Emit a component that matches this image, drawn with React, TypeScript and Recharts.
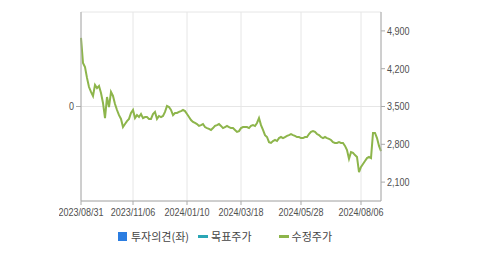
import { LineChart, Line, XAxis, YAxis, CartesianGrid } from "recharts";

// 수정주가, sampled evenly across the period
const prices = [
  4770, 4305, 4230, 4030, 3860, 3770, 3695, 3900, 3840, 3880,
  3750, 3565, 3285, 3675, 3490, 3770, 3695, 3545, 3435, 3340,
  3270, 3120, 3175, 3230, 3270, 3380, 3435, 3285, 3340, 3305,
  3360, 3285, 3305, 3305, 3270, 3270, 3360, 3400, 3270, 3325,
  3305, 3325, 3400, 3510, 3490, 3435, 3340, 3380, 3380, 3400,
  3415, 3435, 3415, 3360, 3305, 3250, 3215, 3195, 3175, 3140,
  3155, 3175, 3120, 3100, 3085, 3065, 3100, 3140, 3155, 3175,
  3140, 3100, 3120, 3140, 3120, 3100, 3100, 3065, 3030, 3045,
  3100, 3120, 3120, 3120, 3100, 3140, 3155, 3140, 3195, 3285,
  3155, 3065, 2970, 2935, 2840, 2825, 2860, 2880, 2860, 2915,
  2935, 2915, 2935, 2955, 2970, 2990, 2970, 2955, 2935, 2935,
  2915, 2915, 2935, 2935, 2990, 3030, 3045, 3030, 2990, 2970,
  2935, 2915, 2935, 2915, 2900, 2880, 2840, 2825, 2825, 2840,
  2825, 2825, 2770, 2695, 2530, 2655, 2640, 2600, 2565, 2285,
  2380, 2435, 2490, 2545, 2565, 2545, 3010, 3010, 2915, 2770,
  2675,
];

const dateTicks = [0, 26, 53, 80, 110, 140];
const dateLabels = ["2023/08/31", "2023/11/06", "2024/01/10", "2024/03/18", "2024/05/28", "2024/08/06"];
const priceTicks = [2100, 2800, 3500, 4200, 4900];
const opinionTicks = [0];

const data = prices.map((p, i) => ({ i, price: p }));

const axisColor = "#aaa";

// narrow-looking tick text (the source uses a condensed font we don't have)
function NarrowTick({ x, y, payload, anchor, dy, format }: any) {
  const label = format ? format(payload.value) : String(payload.value);
  return (
    <g transform={`translate(${x},${y}) scale(0.82,1)`}>
      <text
        x={0}
        y={0}
        dy={dy}
        textAnchor={anchor}
        fill="#505050"
        fontSize={11}
        fontFamily="'Liberation Sans', Arial, sans-serif"
      >
        {label}
      </text>
    </g>
  );
}

const dateFmt = (v: number) => dateLabels[dateTicks.indexOf(v)] ?? "";
const priceFmt = (v: number) => v.toLocaleString("en-US");

export default function App() {
  return (
    <div style={{ position: "absolute", left: 0, top: 0, width: 479, height: 255 }}>
      {/* the source crops the chart on the left, cutting into the first date */}
      <div style={{ position: "absolute", left: 59, top: 0, width: 420, height: 255, overflow: "hidden" }}>
        <div style={{ marginLeft: -59 }}>
          <LineChart width={479} height={255} data={data} margin={{ top: 12, right: 48, left: 0, bottom: 34 }}>
            <CartesianGrid yAxisId="left" stroke="#e6e6e6" />
            <XAxis
              dataKey="i"
              type="number"
              domain={[0, prices.length - 1]}
              ticks={dateTicks}
              interval={0}
              height={20}
              tickSize={4}
              tickMargin={3}
              tick={(p: any) => <NarrowTick {...p} anchor="middle" dy="0.71em" format={dateFmt} />}
              stroke={axisColor}
            />
            <XAxis
              xAxisId="top"
              orientation="top"
              dataKey="i"
              type="number"
              domain={[0, prices.length - 1]}
              height={0}
              tick={false}
              tickLine={false}
              stroke={axisColor}
            />
            <YAxis
              yAxisId="left"
              domain={[-1, 1]}
              ticks={opinionTicks}
              allowDataOverflow
              width={81}
              tickSize={5}
              tickMargin={2}
              tick={(p: any) => <NarrowTick {...p} anchor="end" dy="0.355em" />}
              stroke={axisColor}
            />
            <YAxis
              yAxisId="right"
              orientation="right"
              domain={[1750, 5250]}
              ticks={priceTicks}
              allowDataOverflow
              width={50}
              tickSize={4}
              tickMargin={2}
              tick={(p: any) => <NarrowTick {...p} anchor="start" dy="0.355em" format={priceFmt} />}
              stroke={axisColor}
            />
            <Line
              yAxisId="right"
              dataKey="price"
              type="linear"
              stroke="#8db54b"
              strokeWidth={2}
              dot={false}
              isAnimationActive={false}
            />
          </LineChart>
        </div>
      </div>
      <div
        style={{
          position: "absolute",
          left: 118,
          top: 228,
          display: "flex",
          alignItems: "center",
          height: 16,
          fontFamily: "'Noto Sans CJK KR', sans-serif",
          fontSize: 11,
          color: "#444",
          whiteSpace: "nowrap",
        }}
      >
        <span style={{ width: 9, height: 9, background: "#2b7de1", marginRight: 4 }} />
        <span style={{ marginRight: 9 }}>투자의견(좌)</span>
        <span style={{ width: 10, height: 3, background: "#2aa6b5", marginRight: 3 }} />
        <span style={{ marginRight: 27 }}>목표주가</span>
        <span style={{ width: 10, height: 3, background: "#8db54b", marginRight: 3 }} />
        <span>수정주가</span>
      </div>
    </div>
  );
}
